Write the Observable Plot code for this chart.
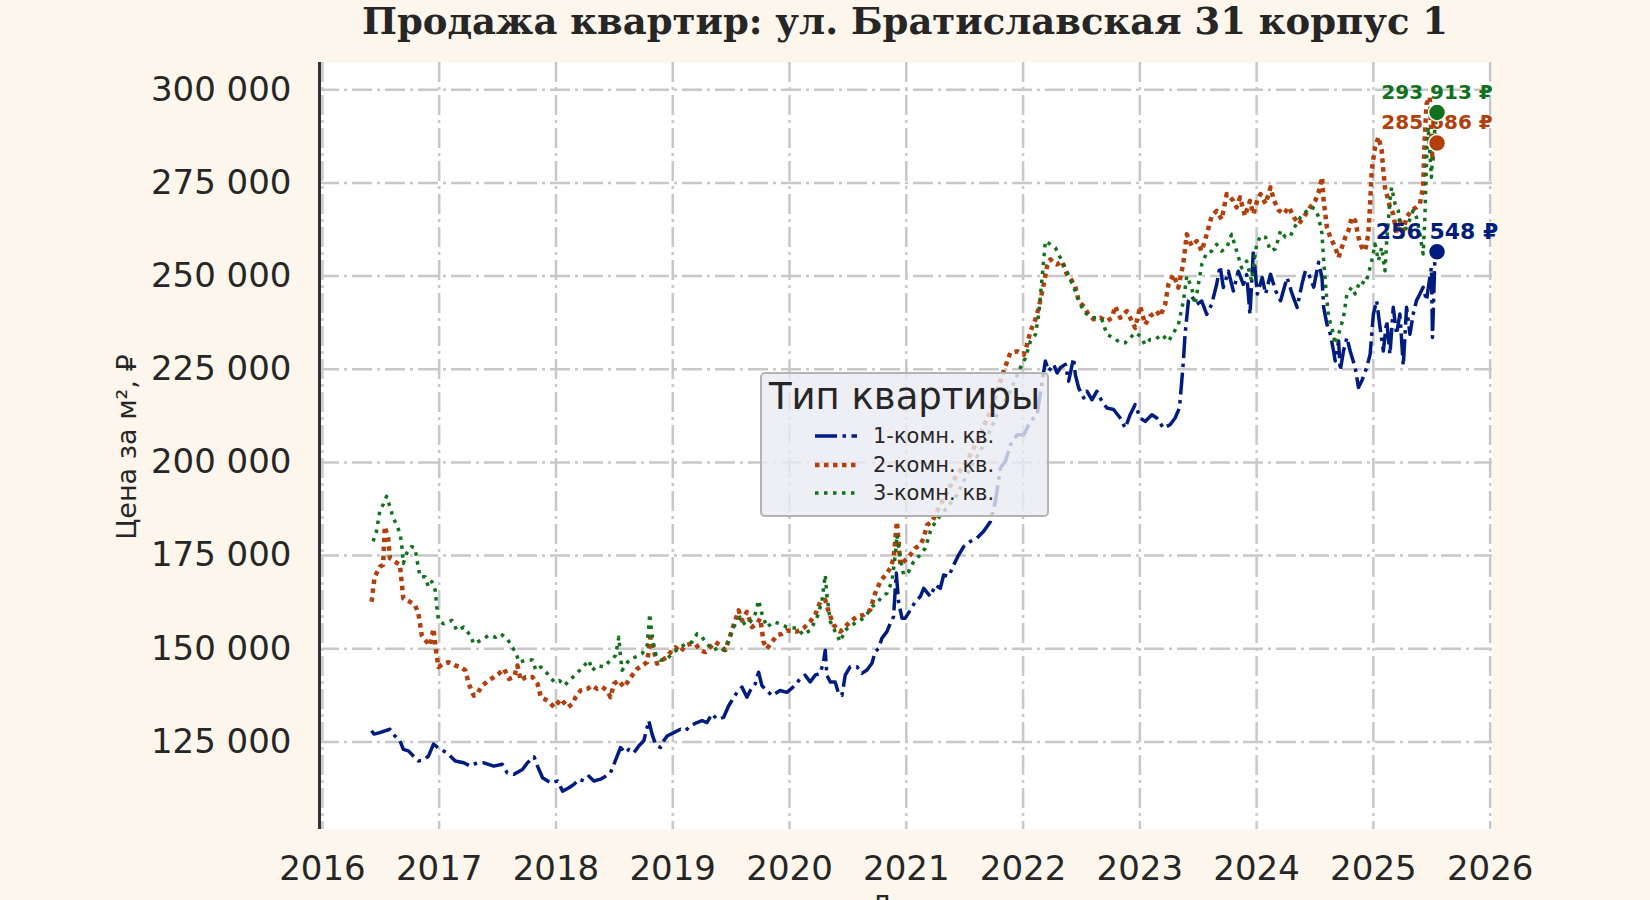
<!DOCTYPE html>
<html><head><meta charset="utf-8">
<script src="https://cdn.jsdelivr.net/npm/d3@7"></script>
<script src="https://cdn.jsdelivr.net/npm/@observablehq/plot@0.6"></script>
<style>
html,body{margin:0;padding:0;background:#fdf6ec;overflow:hidden;}
#wrap{position:relative;width:1650px;height:900px;font-family:"DejaVu Sans",sans-serif;color:#262626;}
#title{position:absolute;left:205px;width:1400px;top:3px;text-align:center;font-family:"DejaVu Serif",serif;font-weight:bold;font-size:37px;line-height:37px;white-space:nowrap;}
#plot{position:absolute;left:0;top:40px;}
#ylab{position:absolute;left:126px;top:447px;transform:translate(-50%,-50%) rotate(-90deg);font-size:27px;white-space:nowrap;line-height:27px;}
#xlab{position:absolute;left:705px;width:400px;top:893px;text-align:center;font-size:26px;line-height:26px;}
#legend{position:absolute;left:760px;top:372px;width:289px;height:145px;box-sizing:border-box;border:2px solid #b3b3b3;border-radius:5px;background:rgba(234,234,242,0.8);}
#legend .ttl{position:absolute;left:0;width:100%;top:4px;text-align:center;font-size:37px;line-height:37px;white-space:nowrap;}
#legend .row{position:absolute;left:53px;height:21px;font-size:21px;line-height:21px;white-space:nowrap;}
#legend .row svg{position:absolute;left:0;top:5px;}
#legend .row span{position:absolute;left:58px;top:0;}
</style></head>
<body><div id="wrap">
<div id="title">Продажа квартир: ул. Братиславская 31 корпус 1</div>
<div id="plot"></div>
<div id="ylab">Цена за м², ₽</div>
<div id="xlab">Дата</div>
<div id="legend"></div>
</div>
<script>
// ---- data (decimal year, price per m²) ----
const seriesNames = ["1-комн. кв.", "2-комн. кв.", "3-комн. кв."];
const xTicks = [2016, 2017, 2018, 2019, 2020, 2021, 2022, 2023, 2024, 2025, 2026];
const yTicks = [125000, 150000, 175000, 200000, 225000, 250000, 275000, 300000];

const years1 = [2016.420,2016.443,2016.491,2016.578,2016.621,2016.664,2016.693,2016.736,2016.779,2016.822,2016.865,2016.908,2016.951,2017.009,2017.066,2017.138,2017.210,2017.267,2017.325,2017.382,2017.468,2017.540,2017.583,2017.641,2017.713,2017.756,2017.813,2017.842,2017.885,2017.957,2018.014,2018.057,2018.111,2018.154,2018.197,2018.239,2018.282,2018.325,2018.382,2018.425,2018.467,2018.496,2018.524,2018.553,2018.595,2018.624,2018.667,2018.709,2018.752,2018.795,2018.823,2018.852,2018.895,2018.923,2018.952,2019.009,2019.066,2019.108,2019.151,2019.208,2019.251,2019.293,2019.336,2019.379,2019.436,2019.479,2019.507,2019.550,2019.593,2019.635,2019.664,2019.707,2019.735,2019.764,2019.807,2019.849,2019.920,2019.977,2020.049,2020.091,2020.134,2020.177,2020.220,2020.263,2020.291,2020.306,2020.320,2020.349,2020.391,2020.420,2020.449,2020.477,2020.520,2020.577,2020.620,2020.663,2020.706,2020.734,2020.763,2020.791,2020.834,2020.863,2020.891,2020.914,2020.934,2020.963,2020.991,2021.034,2021.077,2021.120,2021.149,2021.206,2021.249,2021.291,2021.320,2021.363,2021.406,2021.449,2021.491,2021.549,2021.606,2021.663,2021.720,2021.763,2021.806,2021.849,2021.891,2021.949,2022.006,2022.063,2022.120,2022.191,2022.219,2022.262,2022.291,2022.319,2022.362,2022.390,2022.433,2022.447,2022.476,2022.519,2022.547,2022.590,2022.632,2022.675,2022.718,2022.775,2022.832,2022.875,2022.917,2022.960,2023.003,2023.046,2023.103,2023.145,2023.202,2023.259,2023.302,2023.339,2023.359,2023.373,2023.387,2023.416,2023.444,2023.487,2023.530,2023.573,2023.615,2023.658,2023.687,2023.715,2023.758,2023.801,2023.843,2023.886,2023.915,2023.943,2023.972,2024.006,2024.048,2024.077,2024.119,2024.162,2024.205,2024.261,2024.304,2024.347,2024.389,2024.418,2024.446,2024.489,2024.531,2024.560,2024.574,2024.602,2024.631,2024.659,2024.673,2024.702,2024.716,2024.744,2024.773,2024.801,2024.844,2024.872,2024.901,2024.943,2024.972,2025.000,2025.028,2025.057,2025.085,2025.114,2025.142,2025.170,2025.199,2025.227,2025.256,2025.284,2025.313,2025.341,2025.369,2025.398,2025.426,2025.455,2025.483,2025.497,2025.506,2025.526,2025.545];
const price1 = [128000,127100,127500,128400,126600,125300,123000,122600,121200,119900,120100,121200,124400,123000,122100,119900,119400,118500,119400,119400,118500,119000,116700,116300,117600,119400,121000,118500,115400,114000,114500,111800,112700,113600,115000,114500,115800,114500,115000,115800,116700,119000,121200,123500,122100,123000,122100,123900,125300,130700,127100,124400,123500,125300,126600,127500,128400,128000,129300,130200,130700,130200,132500,131100,131600,134700,136100,138300,139700,137000,138800,140600,143700,140100,138800,137400,138800,138300,140200,142000,142900,141100,142900,143400,146500,149600,142900,141100,141100,138000,137500,142900,145200,145200,143400,144300,146100,149200,150100,152800,154600,156800,158600,170300,162600,158200,158200,160400,162600,164000,166200,164000,167100,166200,169800,169400,172500,175200,177400,178800,179700,181500,184100,189500,198500,200300,204700,207400,207400,211000,212800,227200,224500,226300,224000,225400,226300,221800,228000,223600,220000,217300,219100,216800,219100,216400,214600,214200,211900,209200,212800,215500,211900,211000,212800,211900,209200,210100,211900,214600,221800,227200,234300,243300,244600,242400,243300,239700,242400,247800,252700,246900,251300,246000,251300,247800,250400,239700,256700,245200,249600,245200,250500,246100,243400,249600,245200,241600,247900,251400,250500,247000,253700,249600,241600,237100,234400,229900,227200,232600,224600,229900,233500,229900,225500,220100,221900,225500,229000,239800,243400,236200,229900,238000,229000,241600,234400,239800,226000,241600,234400,239800,243400,245200,247000,243400,249600,252300,233500,254100,256548];

const years2 = [2016.420,2016.428,2016.434,2016.448,2016.491,2016.520,2016.534,2016.563,2016.578,2016.621,2016.664,2016.678,2016.693,2016.750,2016.793,2016.822,2016.836,2016.851,2016.894,2016.922,2016.951,2016.980,2016.994,2017.037,2017.080,2017.138,2017.181,2017.224,2017.253,2017.296,2017.325,2017.368,2017.425,2017.468,2017.511,2017.555,2017.598,2017.641,2017.670,2017.698,2017.741,2017.799,2017.842,2017.871,2017.928,2017.986,2018.043,2018.101,2018.140,2018.168,2018.211,2018.268,2018.311,2018.353,2018.396,2018.439,2018.467,2018.496,2018.538,2018.581,2018.624,2018.652,2018.695,2018.738,2018.781,2018.809,2018.838,2018.866,2018.909,2018.952,2018.994,2019.023,2019.066,2019.108,2019.151,2019.194,2019.236,2019.279,2019.322,2019.365,2019.407,2019.450,2019.493,2019.521,2019.564,2019.593,2019.635,2019.678,2019.721,2019.749,2019.778,2019.806,2019.849,2019.892,2019.934,2019.977,2020.063,2020.120,2020.177,2020.220,2020.263,2020.306,2020.334,2020.377,2020.434,2020.477,2020.520,2020.577,2020.634,2020.691,2020.734,2020.777,2020.834,2020.863,2020.891,2020.920,2020.934,2020.949,2020.991,2021.034,2021.077,2021.120,2021.149,2021.177,2021.220,2021.263,2021.349,2021.434,2021.520,2021.606,2021.720,2021.777,2021.834,2021.891,2021.949,2022.006,2022.034,2022.063,2022.106,2022.134,2022.177,2022.206,2022.234,2022.262,2022.291,2022.333,2022.376,2022.419,2022.447,2022.476,2022.519,2022.561,2022.604,2022.661,2022.718,2022.761,2022.789,2022.832,2022.889,2022.932,2022.960,2023.003,2023.046,2023.088,2023.145,2023.174,2023.217,2023.245,2023.288,2023.330,2023.373,2023.402,2023.444,2023.487,2023.530,2023.573,2023.615,2023.658,2023.701,2023.744,2023.801,2023.829,2023.858,2023.900,2023.943,2023.972,2024.006,2024.034,2024.077,2024.119,2024.148,2024.190,2024.233,2024.276,2024.318,2024.361,2024.403,2024.460,2024.503,2024.531,2024.560,2024.574,2024.602,2024.631,2024.673,2024.702,2024.730,2024.759,2024.787,2024.815,2024.844,2024.872,2024.901,2024.929,2024.957,2024.972,2024.986,2025.014,2025.043,2025.071,2025.085,2025.099,2025.128,2025.142,2025.170,2025.199,2025.227,2025.256,2025.284,2025.327,2025.369,2025.398,2025.426,2025.440,2025.455,2025.483,2025.506,2025.526,2025.545];
const price2 = [162600,163900,166200,169300,172000,172500,182800,179700,174300,173400,172500,168000,163500,162600,161700,159400,156700,153600,151800,150900,155400,147800,145100,146000,146400,145500,145100,144200,140600,137400,137900,140100,141500,142400,143300,144600,141900,142400,145500,141500,142400,142400,140600,137000,136100,134300,136500,134300,135200,137000,138800,139200,140100,139200,139700,138800,137000,140600,141500,139700,141500,142800,144600,145500,146400,153100,149600,146000,146900,147800,149600,150400,149100,150900,151300,151300,149600,149100,150400,151800,150900,149600,153600,156300,160300,157600,159900,155800,156700,158100,151800,150000,151800,153600,154000,154900,154600,155500,157300,159100,162600,163100,160000,156400,154600,155900,157300,158600,159100,160400,164900,168000,170300,171600,174300,184100,178800,172500,173800,175200,177000,177900,179700,183200,184100,186800,192200,196700,200300,205600,213700,219100,224500,229400,229800,228900,231600,235200,238400,241500,247800,252700,254500,253600,253100,254000,250400,248700,247300,243300,241900,239700,238400,238800,237900,238800,241900,238800,240600,237900,236100,241900,237000,239200,240600,239200,242400,247800,250400,246900,253600,261200,258100,259400,256700,261200,266100,267500,265200,272000,270200,268400,271100,266100,270200,266600,270300,272000,269400,273800,270300,267600,266700,268500,265800,264000,265800,268500,270300,272500,276500,270300,263100,260400,257700,255000,257700,260400,262200,265800,264900,260400,257700,256800,261300,269400,278300,284600,287300,283700,278300,273800,270300,268500,266700,261300,264900,262200,265800,267600,268500,269400,273800,287300,296200,298000,281000,288200,285686];

const years3 = [2016.434,2016.463,2016.491,2016.520,2016.549,2016.578,2016.606,2016.635,2016.664,2016.678,2016.693,2016.721,2016.764,2016.793,2016.807,2016.836,2016.879,2016.908,2016.937,2016.966,2016.980,2016.994,2017.037,2017.109,2017.152,2017.210,2017.267,2017.296,2017.353,2017.425,2017.483,2017.526,2017.583,2017.626,2017.655,2017.684,2017.741,2017.799,2017.828,2017.871,2017.928,2017.986,2018.029,2018.072,2018.129,2018.216,2018.282,2018.311,2018.353,2018.410,2018.467,2018.510,2018.538,2018.553,2018.567,2018.624,2018.681,2018.738,2018.781,2018.803,2018.823,2018.852,2018.895,2018.952,2019.009,2019.051,2019.108,2019.165,2019.208,2019.251,2019.293,2019.350,2019.393,2019.436,2019.479,2019.521,2019.578,2019.621,2019.664,2019.707,2019.735,2019.764,2019.806,2019.863,2019.920,2019.977,2020.063,2020.120,2020.177,2020.234,2020.277,2020.306,2020.320,2020.349,2020.391,2020.434,2020.477,2020.534,2020.591,2020.649,2020.706,2020.749,2020.791,2020.834,2020.877,2020.906,2020.920,2020.949,2020.977,2021.020,2021.063,2021.120,2021.163,2021.206,2021.249,2021.320,2021.434,2021.549,2021.663,2021.777,2021.891,2021.977,2022.020,2022.063,2022.106,2022.134,2022.163,2022.191,2022.234,2022.276,2022.319,2022.362,2022.405,2022.447,2022.490,2022.533,2022.590,2022.632,2022.675,2022.718,2022.775,2022.832,2022.875,2022.917,2022.960,2023.003,2023.046,2023.088,2023.131,2023.188,2023.245,2023.288,2023.330,2023.373,2023.402,2023.444,2023.473,2023.530,2023.573,2023.615,2023.658,2023.701,2023.744,2023.786,2023.829,2023.872,2023.915,2023.957,2024.000,2024.034,2024.077,2024.119,2024.162,2024.205,2024.247,2024.290,2024.332,2024.375,2024.418,2024.460,2024.503,2024.531,2024.560,2024.574,2024.597,2024.616,2024.645,2024.673,2024.702,2024.744,2024.773,2024.815,2024.844,2024.886,2024.929,2024.957,2024.986,2025.014,2025.043,2025.071,2025.099,2025.114,2025.142,2025.156,2025.185,2025.213,2025.241,2025.270,2025.298,2025.341,2025.369,2025.398,2025.426,2025.440,2025.455,2025.469,2025.497,2025.511,2025.545];
const price3 = [178800,181500,186900,188700,190900,188200,185100,183300,181000,178300,172900,175600,177400,177000,174300,169300,169300,166600,168000,165700,161200,157600,156700,157600,154900,155800,153600,151300,152200,153600,153100,154000,152700,150400,149100,146400,146900,147000,144200,145100,143300,141000,141500,140100,141900,144600,146900,144200,145500,145100,146900,148200,153100,147800,144200,146900,147800,148700,150900,159400,153600,148700,146900,147300,149100,150000,151300,151800,154000,153100,151300,149600,150400,149600,152200,155800,158500,156300,157200,159400,163000,159400,155800,157200,156700,155800,155500,153700,155000,158200,162600,169800,164400,157300,154600,151900,155000,156400,157300,158600,161300,162200,164000,164900,168000,175200,180600,174300,169800,170700,173400,175200,177000,181500,184100,186800,191300,198500,204700,212800,219100,225400,228000,232500,234300,239700,249600,259400,258500,257600,254900,252200,249100,246000,242400,240100,238800,238800,238400,234300,233400,232100,232100,233400,234800,233900,231600,233000,233000,234300,232500,234800,237000,243300,250000,246900,242400,253100,256300,256700,258500,256700,257600,261200,256700,252200,254000,248700,258500,260800,260400,256800,257300,262200,260400,260800,263500,265800,267100,268500,268000,265800,261300,254100,245200,238900,236200,231700,234400,238900,245200,247000,245200,248700,247900,250500,254100,258600,254100,257700,251400,259500,270300,273800,269400,267600,260400,262200,264000,267600,265800,261300,255900,264900,281000,290000,276500,285500,293913];

// ---- styling per series ----
const colors = ["#001c7f", "#b1400d", "#12711c"];
const dashes = ["22,5.5,3.5,5.5", "4.5,4.5", "3.5,5.5"];
const widths = [3.5, 4.5, 3.5];

const fmt = v => d3.format(",")(v).replace(/,/g, " ");
const rows = [[years1, price1], [years2, price2], [years3, price3]].map(([t, v], s) =>
  t.map((d, i) => ({t: d, v: v[i], s})));
const last = rows.map(r => r[r.length - 1]);
const labelSize = [22, 20, 20];

const marks = [
  Plot.frame({fill: "#fefefe", stroke: "none"}),
  Plot.gridY(yTicks, {stroke: "#c8c8c8", strokeOpacity: 1, strokeWidth: 2.5, strokeDasharray: "20,5,3,5"}),
  Plot.gridX(xTicks, {stroke: "#c8c8c8", strokeOpacity: 1, strokeWidth: 2.5, strokeDasharray: "20,5,3,5"}),
  Plot.axisY(yTicks, {tickSize: 0, tickPadding: 28, fontSize: 34, tickFormat: fmt, label: null}),
  Plot.axisX(xTicks, {tickSize: 0, tickPadding: 26, fontSize: 34, tickFormat: d => String(d), label: null}),
  Plot.ruleX([2015.975], {stroke: "#333333", strokeWidth: 3})
];
rows.forEach((r, s) => {
  marks.push(Plot.line(r, {x: "t", y: "v", stroke: colors[s], strokeWidth: widths[s],
    strokeDasharray: dashes[s], strokeLinecap: "butt", strokeLinejoin: "round"}));
});
last.forEach((d, s) => {
  marks.push(Plot.dot([d], {x: "t", y: "v", r: 8.5, fill: colors[s], stroke: "white", strokeWidth: 1.5}));
  marks.push(Plot.text([d], {x: "t", y: "v", text: d => fmt(d.v) + " ₽", dy: -20, fill: colors[s],
    fontWeight: "bold", fontSize: labelSize[s]}));
});

const chart = Plot.plot({
  width: 1650, height: 859,
  marginLeft: 319, marginRight: 158, marginTop: 22, marginBottom: 70,
  x: {domain: [2015.975, 2026.02], label: null},
  y: {domain: [101500, 307300], label: null},
  style: {fontFamily: "DejaVu Sans", background: "transparent", color: "#262626", overflow: "visible"},
  marks
});
document.getElementById("plot").appendChild(chart);

// ---- legend ----
const lg = document.getElementById("legend");
lg.innerHTML = '<div class="ttl">Тип квартиры</div>' + seriesNames.map((n, s) =>
  `<div class="row" style="top:${52 + s * 28.5}px"><svg width="42" height="10"><line x1="0" x2="42" y1="5" y2="5" stroke="${colors[s]}" stroke-width="${widths[s]}" stroke-dasharray="${dashes[s]}"/></svg><span>${n}</span></div>`
).join("");
</script>
</body></html>
